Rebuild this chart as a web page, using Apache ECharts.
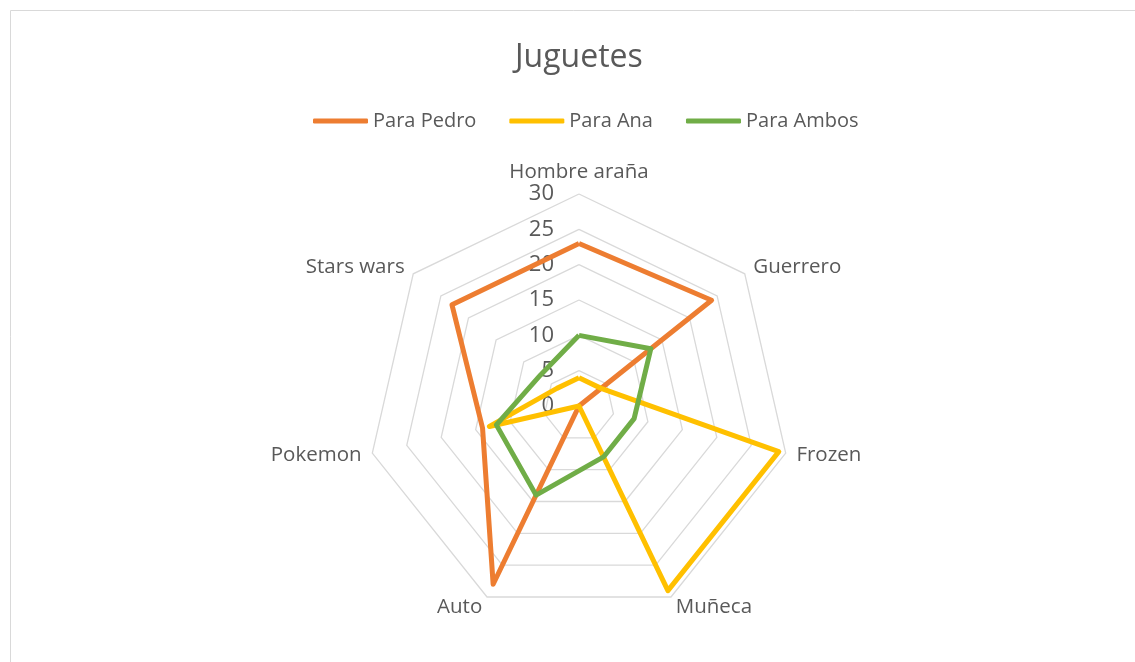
<!DOCTYPE html>
<html><head><meta charset="utf-8">
<script src="https://cdn.jsdelivr.net/npm/echarts@6/dist/echarts.min.js"></script>
<style>html,body{margin:0;padding:0;background:#fff}#c{width:1135px;height:662px}</style>
</head><body><div id="c"></div>
<script>
// categories in clockwise order starting from top
const categories = ['Hombre araña', 'Guerrero', 'Frozen', 'Muñeca', 'Auto', 'Pokemon', 'Stars wars'];
const paraPedro = [23, 24, 0, 0, 28, 14, 23];
const paraAna   = [4, 4, 29, 29, 0, 13, 4];
const paraAmbos = [10, 13, 8, 8, 14, 12, 7];
const seriesNames = ['Para Pedro', 'Para Ana', 'Para Ambos'];
const colors = ['#ED7D31', '#FFC000', '#70AD47'];
const scaleMin = 0, scaleMax = 30, scaleStep = 5;

// ECharts radar places indicators counter-clockwise; reorder to display clockwise
const order = [0, 6, 5, 4, 3, 2, 1];
const reorder = arr => order.map(i => arr[i]);

const FONT = 'Open Sans';
const TXT = '#595959';
const center = [579, 406];
const radius = 212;

const chart = echarts.init(document.getElementById('c'));
chart.setOption({
  animation: false,
  textStyle: { fontFamily: FONT },
  graphic: [{ type: 'rect', shape: { x: 10.5, y: 10.5, width: 1140, height: 670 }, style: { fill: 'none', stroke: '#d9d9d9', lineWidth: 1 } }],
  title: { text: 'Juguetes', left: 510, top: 37, textStyle: { fontFamily: FONT, fontSize: 32, fontWeight: 'normal', color: TXT } },
  legend: {
    top: 106, left: 308, icon: 'roundRect', itemWidth: 55, itemHeight: 5, itemGap: 33,
    textStyle: { fontFamily: FONT, fontSize: 20, color: TXT },
    data: seriesNames
  },
  radar: {
    center: center, radius: radius, startAngle: 90, shape: 'polygon', splitNumber: 6,
    indicator: reorder(categories).map(n => ({ name: n, min: scaleMin, max: scaleMax })),
    axisName: { color: TXT, fontSize: 20.5, fontFamily: FONT },
    nameGap: 11,
    axisLine: { show: false },
    splitLine: { lineStyle: { color: '#d9d9d9', width: 1.3 } },
    splitArea: { show: false },
    axisTick: { show: false },
    axisLabel: { show: false }
  },
  polar: { center: center, radius: radius },
  angleAxis: { startAngle: 90, show: false, min: 0, max: 360 },
  radiusAxis: {
    min: scaleMin, max: scaleMax, interval: scaleStep,
    axisLine: { show: false }, axisTick: { show: false }, splitLine: { show: false },
    axisLabel: { show: true, color: TXT, fontSize: 22, fontFamily: FONT, margin: 25 }
  },
  series: [{
    type: 'radar',
    symbol: 'none',
    data: [paraPedro, paraAna, paraAmbos].map((d, i) => ({
      name: seriesNames[i], value: reorder(d),
      lineStyle: { color: colors[i], width: 5, join: 'round' },
      itemStyle: { color: colors[i] }
    }))
  }]
});
</script></body></html>
